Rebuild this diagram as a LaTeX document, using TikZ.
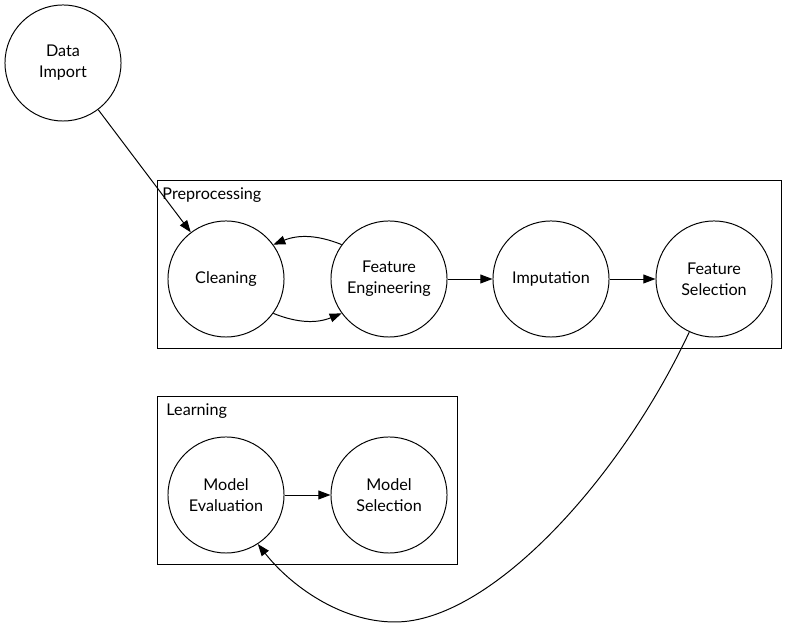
\documentclass[tikz,border=0pt]{standalone}
\usepackage{fontspec}
\setmainfont{Lato}
\usetikzlibrary{arrows.meta}
\begin{document}
\begin{tikzpicture}[x=0.025cm,y=-0.025cm,line width=0.7pt]
    \tikzstyle{stage}=[draw,shape=circle,minimum size=2.9cm,inner sep=0pt,align=center,font=\fontsize{11.5}{15}\selectfont];
    \tikzstyle{flow}=[-{Triangle[length=0.3cm,width=0.22cm]}];
    \tikzstyle{cluster}=[anchor=west,inner sep=0pt,font=\fontsize{11.5}{15}\selectfont];
    \useasboundingbox (0,0) rectangle (798,628);
    % clusters
    \draw (157,180) rectangle (781,348);
    \node[cluster] (pre) at (162,195) {Preprocessing};
    \draw (157,396) rectangle (457,564);
    \node[cluster] (learn) at (166,411) {Learning};
    % stages
    \node[stage] (imp) at (63,63) {Data\\Import};
    \node[stage] (cl) at (226,279) {Cleaning};
    \node[stage] (fe) at (389,279) {Feature\\Engineering};
    \node[stage] (im) at (551,279) {Imputation};
    \node[stage] (fs) at (714,279) {Feature\\Selection};
    \node[stage] (me) at (226,495) {Model\\Evaluation};
    \node[stage] (ms) at (389,495) {Model\\Selection};
    \draw[flow] (imp) -- (cl);
    \draw[flow] (cl.-36) to[bend right=22] (fe.-144);
    \draw[flow] (fe.144) to[bend right=22] (cl.36);
    \draw[flow] (fe) -- (im);
    \draw[flow] (im) -- (fs);
    \draw[flow] (me) -- (ms);
    \draw[flow] (fs.-115) .. controls (620,480) and (490,622) .. (395,622)
    .. controls (340,622) and (290,585) .. (me.-57);
  \end{tikzpicture}
\end{document}
